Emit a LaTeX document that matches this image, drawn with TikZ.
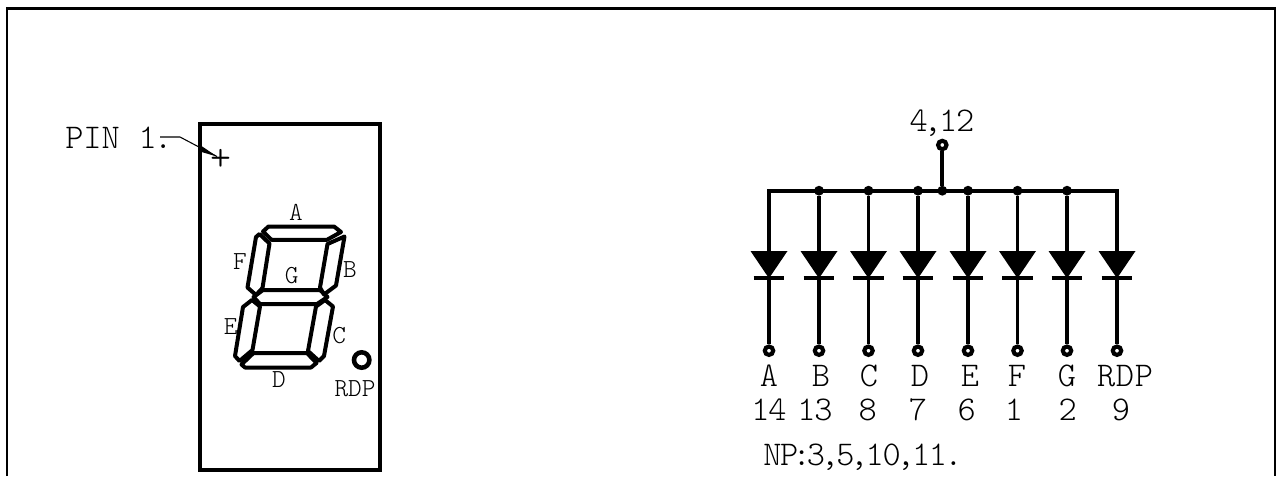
\documentclass[tikz,border=0pt]{standalone}
\newcommand{\cm}{\kern-3.2pt,\kern-2pt}
\newcommand{\dt}{\kern-2pt.}
\newcommand{\dk}{\kern-1pt}
\tikzset{
  px/.style={x=0.75pt,y=-0.75pt},
  lbl/.style={inner sep=0pt,anchor=base,font=\ttfamily\fontseries{l}\selectfont\fontsize{26}{26}\selectfont},
  smalllbl/.style={inner sep=0pt,anchor=base,font=\ttfamily\fontseries{l}\selectfont\fontsize{19.5}{19.5}\selectfont},
  seg/.style={line width=3pt,line join=round,black},
  wire/.style={line width=2.9pt,black},
  term/.style={circle,draw=black,fill=white,line width=3.1pt,minimum size=6.3pt,inner sep=0pt},
  dotn/.style={circle,fill=black,minimum size=7.4pt,inner sep=0pt},
}
\begin{document}
\begin{tikzpicture}[px]
\useasboundingbox (0,0) rectangle (1279,476);
\draw[line width=1.9pt] (7,476) -- (7,8.5) -- (1275,8.5) -- (1275,476);
\draw[line width=3pt] (200,123.5) rectangle (380,470);
% pin marker
\node[lbl,anchor=base west] (pinl) at (65,148.3) {PIN\hspace{14pt}1\dt};
\coordinate (p1) at (160,137);
\coordinate (p2) at (180,137);
\coordinate (p3) at (217,156.5);
\draw[line width=.8pt] (p1) -- (p2) -- (p3);
\fill (200,145) -- (p3) -- (201.5,152) -- cycle;
\node[inner sep=0pt,font=\ttfamily\fontseries{l}\selectfont\fontsize{30}{30}\selectfont] (plus) at (221,160) {+};
% seven segments
\draw[seg] (263,231.5) -- (268.5,226.5) -- (334,226.5) -- (341,232) -- (327,239.8) -- (271.5,239.8) -- cycle;
\draw[seg] (259.5,234) -- (256,237) -- (247.5,287.5) -- (256,295) -- (262.5,288) -- (269.5,243.5) -- cycle;
\draw[seg] (344.5,236.5) -- (336,285.5) -- (324,294.5) -- (320,287.5) -- (327.5,244) -- cycle;
\draw[seg] (253.5,297) -- (263,290) -- (320,290) -- (327.5,297) -- (317,304) -- (260,304) -- cycle;
\draw[seg] (252,300) -- (243,307) -- (235,356) -- (239.5,361) -- (252.5,350) -- (260,306.5) -- cycle;
\draw[seg] (325,300) -- (333,306.5) -- (324,356) -- (319,361) -- (308,351) -- (316,306.5) -- cycle;
\draw[seg] (245,367.5) -- (311,367.5) -- (316.5,363) -- (307,353) -- (253.5,353) -- (241.5,364.5) -- cycle;
\node[smalllbl] (la) at (296,220) {A};
\node[smalllbl] (lf) at (240,269.7) {F};
\node[smalllbl] (lg) at (291.7,283) {G};
\node[smalllbl] (lb) at (350,277) {B};
\node[smalllbl] (le) at (230.7,334.7) {E};
\node[smalllbl] (lc) at (339.3,343.7) {C};
\node[smalllbl] (ld) at (279,387) {D};
\node[smalllbl] (lr) at (355,396.5) {RDP};
\draw[line width=3.4pt] (361.7,360) circle (7.7);
% schematic
\coordinate (busl) at (769,190.7);
\coordinate (busr) at (1117,190.7);
\draw[wire,line cap=rect] (769,250) -- (busl) -- (busr) -- (1117,250);
\node[dotn] (jc) at (942.3,190.7) {};
\node[term] (tc) at (942.3,145) {};
\draw[wire] (jc) -- (tc);
\foreach \n/\x in {1/819,2/868.5,3/918,4/968,5/1017.5,6/1067}{
  \node[dotn] (j\n) at (\x,190.7) {};
  \draw[wire] (j\n) -- (\x,255);
}
\foreach \n/\x in {1/769,2/819,3/868.5,4/918,5/968,6/1017.5,7/1067,8/1117}{
  \coordinate (a\n) at (\x,278.3);
  \fill (\x-18.5,251) -- (\x+18.5,251) -- (a\n) -- cycle;
  \draw[line width=3pt] (\x-15.3,278.3) -- (\x+15.3,278.3);
  \node[term] (b\n) at (\x,350.7) {};
  \draw[wire] (a\n) -- (b\n);
}
\node[lbl] (n1) at (769,386.7) {A};
\node[lbl] (n2) at (821,386.7) {B};
\node[lbl] (n3) at (869,386.7) {C};
\node[lbl] (n4) at (920,386.7) {D};
\node[lbl] (n5) at (970,386.7) {E};
\node[lbl] (n6) at (1017,386.7) {F};
\node[lbl] (n7) at (1067,386.7) {G};
\node[lbl] (n8) at (1125,386.7) {R\kern.5pt D\kern.5pt P};
\node[lbl] (m1) at (769,420) {1\dk 4};
\node[lbl] (m2) at (815,420) {1\dk 3};
\node[lbl] (m3) at (867.7,420) {8};
\node[lbl] (m4) at (918,420) {7};
\node[lbl] (m5) at (966.7,420) {6};
\node[lbl] (m6) at (1014,420) {1};
\node[lbl] (m7) at (1067.7,420) {2};
\node[lbl] (m8) at (1121,420) {9};
\node[lbl,anchor=base west] (np) at (763,465) {N\dk P\kern-4.3pt:\kern-3pt 3\cm 5\cm 1\dk 0\cm 1\dk 1\dt};
\node[lbl] (top) at (942,131.7) {4\cm 1\dk 2};
\end{tikzpicture}
\end{document}
